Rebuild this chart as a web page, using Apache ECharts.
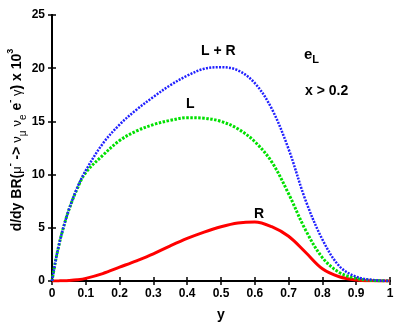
<!DOCTYPE html>
<html><head><meta charset="utf-8">
<script src="https://cdn.jsdelivr.net/npm/echarts@6/dist/echarts.min.js"></script>
<style>html,body{margin:0;padding:0;background:#fff}#c{width:409px;height:327px}</style>
</head><body><div id="c"></div>
<script>
const xs = [0, 0.01, 0.02, 0.03, 0.05, 0.075, 0.1, 0.15, 0.2, 0.25, 0.3, 0.35, 0.4, 0.45, 0.5, 0.55, 0.6, 0.65, 0.7, 0.75, 0.8, 0.85, 0.9, 0.95, 1.0];
const lValues =  [0, 1.8, 3.3, 4.6, 6.7, 8.7, 10.2, 11.8, 13.2, 14.1, 14.7, 15.1, 15.35, 15.3, 15.0, 14.3, 13.1, 11.2, 8.2, 4.8, 2.2, 0.8, 0.25, 0.05, 0];
const rValues =  [0, 0, 0.01, 0.02, 0.05, 0.12, 0.25, 0.7, 1.3, 1.9, 2.55, 3.3, 4.0, 4.6, 5.1, 5.45, 5.55, 5.1, 4.2, 2.7, 1.15, 0.4, 0.1, 0.02, 0];
const lrValues = [0, 1.8, 3.3, 4.6, 6.7, 8.8, 10.4, 12.9, 14.7, 16.1, 17.3, 18.4, 19.3, 19.95, 20.1, 19.8, 18.6, 16.2, 12.4, 7.6, 3.9, 1.4, 0.4, 0.1, 0];
const xTicks = ['0','0.1','0.2','0.3','0.4','0.5','0.6','0.7','0.8','0.9','1'];
const yTicks = ['0','5','10','15','20','25'];

const pair = (ys) => xs.map((x, i) => [x, ys[i]]);
const font = 'Liberation Sans, Arial, sans-serif';
const chart = echarts.init(document.getElementById('c'));
const axLine = {show: true, lineStyle: {color: '#000', width: 2}};
const tick = {show: true, inside: true, length: 4, lineStyle: {color: '#000', width: 1.5}};
chart.setOption({
  animation: false,
  grid: {left: 52, right: 19, top: 15, bottom: 39},
  xAxis: [
    {type: 'value', min: 0, max: 1, interval: 0.1, axisLine: axLine, axisTick: tick, splitLine: {show: false},
     axisLabel: {color: '#000', fontFamily: font, fontWeight: 'bold', fontSize: 12, margin: 7,
       formatter: (v) => xTicks[Math.round(v * 10)]},
     name: 'y', nameLocation: 'middle', nameGap: 27,
     nameTextStyle: {color: '#000', fontFamily: font, fontWeight: 'bold', fontSize: 14}},
    {type: 'value', position: 'top', min: 0, max: 1, interval: 0.1, axisLine: axLine, axisTick: tick, axisLabel: {show: false}, splitLine: {show: false}}
  ],
  yAxis: [
    {type: 'value', min: 0, max: 25, interval: 5, axisLine: axLine, axisTick: tick, splitLine: {show: false},
     axisLabel: {color: '#000', fontFamily: font, fontWeight: 'bold', fontSize: 12, margin: 7,
       formatter: (v) => yTicks[Math.round(v / 5)]}},
    {type: 'value', position: 'right', min: 0, max: 25, interval: 5, axisLine: axLine, axisTick: tick, axisLabel: {show: false}, splitLine: {show: false}}
  ],
  series: [
    {type: 'line', name: 'R', data: pair(rValues), showSymbol: false, smooth: 0.35,
     lineStyle: {color: '#ff0000', width: 3}, z: 3},
    {type: 'line', name: 'L', data: pair(lValues), showSymbol: false, smooth: 0.35,
     lineStyle: {color: '#00e000', width: 3, type: [2.5, 1.5]}, z: 4},
    {type: 'line', name: 'L + R', data: pair(lrValues), showSymbol: false, smooth: 0.35,
     lineStyle: {color: '#2020ff', width: 2.5, type: [2, 1.3]}, z: 5}
  ],
  graphic: [
    {type: 'text', left: 201, top: 44, style: {text: 'L + R', font: 'bold 14px ' + font, fill: '#000'}},
    {type: 'text', left: 186, top: 97, style: {text: 'L', font: 'bold 14px ' + font, fill: '#000'}},
    {type: 'text', left: 254, top: 207, style: {text: 'R', font: 'bold 14px ' + font, fill: '#000'}},
    {type: 'text', left: 304, top: 47, style: {text: '{b|e}{s|L}', fill: '#000',
      rich: {b: {fontFamily: font, fontWeight: 'bold', fontSize: 15, lineHeight: 22, verticalAlign: 'middle'},
             s: {fontFamily: font, fontWeight: 'bold', fontSize: 11, lineHeight: 22, verticalAlign: 'bottom'}}}},
    {type: 'text', left: 305, top: 84, style: {text: 'x > 0.2', font: 'bold 14px ' + font, fill: '#000'}},
    {type: 'text', x: 17, y: 140, rotation: Math.PI / 2,
     style: {text: '{b|d/dy BR(}{g|μ}{sp|-}{b| -> }{g|ν}{sb|μ}{b| }{g|ν}{sb|e}{b| e}{sp|-}{b| }{g|γ}{b|) x 10}{sp|3}',
       align: 'center', verticalAlign: 'middle', fill: '#000',
       rich: {
         b: {fontFamily: font, fontWeight: 'bold', fontSize: 14, lineHeight: 22, verticalAlign: 'middle'},
         g: {fontFamily: font, fontSize: 13, lineHeight: 22, verticalAlign: 'middle'},
         sp: {fontFamily: font, fontWeight: 'bold', fontSize: 9, lineHeight: 22, verticalAlign: 'top'},
         sb: {fontFamily: font, fontSize: 10, lineHeight: 22, verticalAlign: 'bottom'}
       }}}
  ]
});
</script></body></html>
